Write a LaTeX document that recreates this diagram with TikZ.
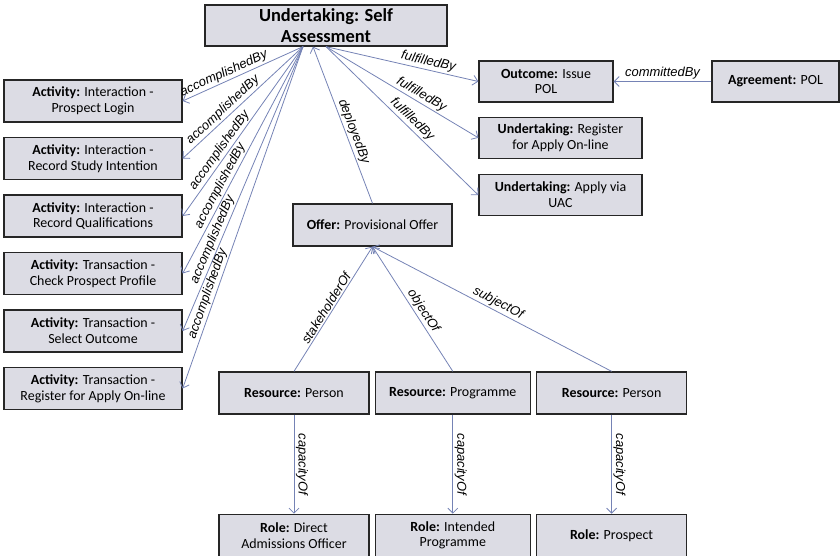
\documentclass[tikz,border=0pt]{standalone}
\usepackage{fontspec}
\setmainfont{Carlito}
\newfontfamily\relfont{Liberation Sans}
\usetikzlibrary{arrows.meta,positioning}
\definecolor{boxgray}{HTML}{DCDCE4}
\definecolor{linkblue}{HTML}{7583B5}

\begin{document}
\begin{tikzpicture}[x=1bp, y=1bp, node distance=14.2bp,
    every node/.style={font=\fontsize{14}{16}\selectfont},
    box/.style={draw=black!85, line width=1.3bp, fill=boxgray, align=center, minimum height=42bp, inner sep=2bp},
    rel/.style={draw=linkblue, line width=0.8bp, -{Straight Barb[length=5bp,width=10bp]}},
    lbl/.style={font=\relfont\itshape\fontsize{13}{13}\selectfont, inner sep=1.5bp, sloped, above}]
      \useasboundingbox (0,0) rectangle (840,-556);
      \node[box,minimum width=242bp,minimum height=41bp,font=\bfseries\fontsize{18.5}{21}\selectfont] (self) at (326,-25.5) {Undertaking: Self\\Assessment};
      % right column
      \node[box,minimum width=134bp,minimum height=41bp] (outcome) at (546,-81.5) {\textbf{Outcome:} Issue\\POL};
      \node[box,minimum width=127bp,minimum height=41bp] (agree) at (775.5,-81.5) {\textbf{Agreement:} POL};
      \node[box,minimum width=163bp,minimum height=41bp,below right=14bp and 0bp of outcome.south west] (register) {\textbf{Undertaking:} Register\\for Apply On-line};
      \node[box,minimum width=163bp,minimum height=41bp,below=15bp of register] (uac) {\textbf{Undertaking:} Apply via\\UAC};
      \node[box,minimum width=159bp] (offer) at (372.5,-225) {\textbf{Offer:} Provisional Offer};
      % activities
      \node[box,minimum width=178bp] (act1) at (93,-101) {\textbf{Activity:} Interaction -\\Prospect Login};
      \node[box,minimum width=178bp,below=of act1] (act2) {\textbf{Activity:} Interaction -\\Record Study Intention};
      \node[box,minimum width=178bp,below=of act2] (act3) {\textbf{Activity:} Interaction -\\Record Qualifications};
      \node[box,minimum width=178bp,below=of act3] (act4) {\textbf{Activity:} Transaction -\\Check Prospect Profile};
      \node[box,minimum width=178bp,below=of act4] (act5) {\textbf{Activity:} Transaction -\\Select Outcome};
      \node[box,minimum width=178bp,below=of act5] (act6) {\textbf{Activity:} Transaction -\\Register for Apply On-line};
      % resources and roles
      \node[box,minimum width=150bp] (res1) at (294,-393) {\textbf{Resource:} Person};
      \node[box,minimum width=155bp,right=5bp of res1] (res2) {\textbf{Resource:} Programme};
      \node[box,minimum width=150bp,right=5bp of res2] (res3) {\textbf{Resource:} Person};
      \node[box,minimum width=150bp,below=99bp of res1] (role1) {\textbf{Role:} Direct\\Admissions Officer};
      \node[box,minimum width=155bp,below=99bp of res2] (role2) {\textbf{Role:} Intended\\Programme};
      \node[box,minimum width=150bp,below=99bp of res3] (role3) {\textbf{Role:} Prospect};
      % relations
      \coordinate (accfrom) at ([xshift=-23bp]self.south);
      \coordinate (depto) at ([xshift=-13bp]self.south);
      \draw[rel] (accfrom) -- (act1.east) node[lbl,pos=0.63] {accomplishedBy};
      \draw[rel] (accfrom) -- (act2.east) node[lbl,pos=0.62] {accomplishedBy};
      \draw[rel] (accfrom) -- (act3.east) node[lbl,pos=0.64] {accomplishedBy};
      \draw[rel] (accfrom) -- (act4.east) node[lbl,pos=0.63] {accomplishedBy};
      \draw[rel] (accfrom) -- (act5.east) node[lbl,pos=0.69] {accomplishedBy};
      \draw[rel] (accfrom) -- (act6.east) node[lbl,pos=0.73] {accomplishedBy};
      \draw[rel] (self.south) -- (outcome.west) node[lbl,pos=0.66] {fulfilledBy};
      \draw[rel] (self.south) -- (register.west) node[lbl,pos=0.6] {fulfilledBy};
      \draw[rel] (self.south) -- (uac.west) node[lbl,pos=0.53] {fulfilledBy};
      \draw[rel] (agree) -- (outcome) node[lbl,pos=0.5] {committedBy};
      \draw[rel] (offer.north) -- (depto) node[lbl,pos=0.44] {deployedBy};
      \draw[rel] (res1.north) -- (offer.south) node[lbl,pos=0.48] {stakeholderOf};
      \draw[rel] (res2.north) -- (offer.south) node[lbl,pos=0.45] {objectOf};
      \draw[rel] (res3.north) -- (offer.south) node[lbl,pos=0.49] {subjectOf};
      \draw[rel] (res1) -- (role1) node[lbl,pos=0.5] {capacityOf};
      \draw[rel] (res2) -- (role2) node[lbl,pos=0.5] {capacityOf};
      \draw[rel] (res3) -- (role3) node[lbl,pos=0.5] {capacityOf};
    \end{tikzpicture}
\end{document}
